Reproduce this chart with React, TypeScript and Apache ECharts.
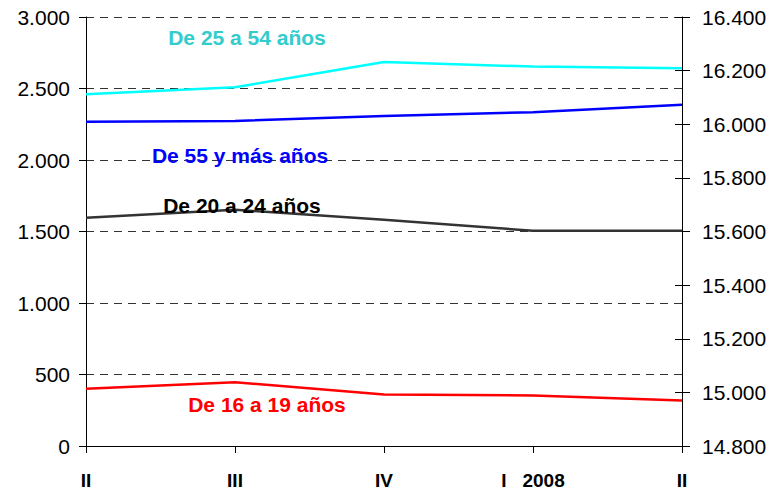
import React, { useEffect, useRef } from "react";
import * as echarts from "echarts";

const categories = ["II", "III", "IV", "I   2008", "II"];
const age25to54 = [16112, 16138, 16232, 16215, 16209];
const age55plus = [2267, 2273, 2308, 2334, 2387];
const age20to24 = [1596, 1652, 1582, 1505, 1505];
const age16to19 = [400, 446, 360, 353, 318];
const seriesNames = ["De 25 a 54 años", "De 55 y más años", "De 20 a 24 años", "De 16 a 19 años"];

const FONT = "'Liberation Sans', Arial, sans-serif";

export default function App() {
  const ref = useRef<HTMLDivElement>(null);
  useEffect(() => {
    if (!ref.current) return;
    const chart = echarts.init(ref.current, null, { renderer: "svg" });
    const lineSeries = (name: string, data: number[], color: string, yAxisIndex: number) => ({
      name,
      type: "line",
      data,
      yAxisIndex,
      symbol: "none",
      lineStyle: { color, width: 2.5 },
      itemStyle: { color },
      z: 3,
    });
    const labelText = (text: string, x: number, y: number, color: string) => ({
      type: "text",
      x,
      y,
      style: {
        text,
        fill: color,
        font: `bold 21px ${FONT}`,
        textAlign: "center",
        textVerticalAlign: "middle",
      },
      z: 10,
    });
    chart.setOption({
      animation: false,
      backgroundColor: "#ffffff",
      grid: { left: 86, right: 89, top: 17, bottom: 45, containLabel: false },
      xAxis: {
        type: "category",
        data: categories,
        boundaryGap: false,
        axisLine: { lineStyle: { color: "#000", width: 1 } },
        axisTick: { show: true, alignWithLabel: true, length: 7, lineStyle: { color: "#000" } },
        axisLabel: {
          color: "#000",
          fontFamily: FONT,
          fontWeight: "bold",
          fontSize: 19,
          margin: 25,
          interval: 0,
        },
        splitLine: { show: false },
      },
      yAxis: [
        {
          type: "value",
          position: "left",
          min: 0,
          max: 3000,
          interval: 500,
          axisLine: { show: true, lineStyle: { color: "#000" } },
          axisTick: { show: true, length: 7, lineStyle: { color: "#000" } },
          axisLabel: {
            color: "#000",
            fontFamily: FONT,
            fontSize: 21,
            margin: 16,
            formatter: (v: number) => v.toLocaleString("de-DE"),
          },
          splitLine: { show: true, lineStyle: { color: "#333", type: [8, 6], width: 1 } },
        },
        {
          type: "value",
          position: "right",
          min: 14800,
          max: 16400,
          interval: 200,
          axisLine: { show: true, lineStyle: { color: "#000" } },
          axisTick: { show: true, length: 8, lineStyle: { color: "#000" } },
          axisLabel: {
            color: "#000",
            fontFamily: FONT,
            fontSize: 21,
            margin: 20,
            formatter: (v: number) => v.toLocaleString("de-DE"),
          },
          splitLine: { show: false },
        },
        {
          type: "value",
          position: "right",
          min: 14800,
          max: 16400,
          interval: 200,
          axisLine: { show: false },
          axisTick: { show: true, inside: true, length: 7, lineStyle: { color: "#000" } },
          axisLabel: { show: false },
          splitLine: { show: false },
        },
      ],
      series: [
        lineSeries(seriesNames[0], age25to54, "#00FFFF", 1),
        lineSeries(seriesNames[1], age55plus, "#0000FF", 0),
        lineSeries(seriesNames[2], age20to24, "#333333", 0),
        lineSeries(seriesNames[3], age16to19, "#FF0000", 0),
      ],
      graphic: [
        labelText(seriesNames[0], 247, 37, "#33CCCC"),
        labelText(seriesNames[1], 240, 155, "#0000FF"),
        labelText(seriesNames[2], 242, 205, "#000000"),
        labelText(seriesNames[3], 267, 404, "#FF0000"),
      ],
    });
    return () => chart.dispose();
  }, []);
  return (
    <div
      ref={ref}
      style={{ position: "fixed", left: 0, top: 0, width: 771, height: 491 }}
    />
  );
}
